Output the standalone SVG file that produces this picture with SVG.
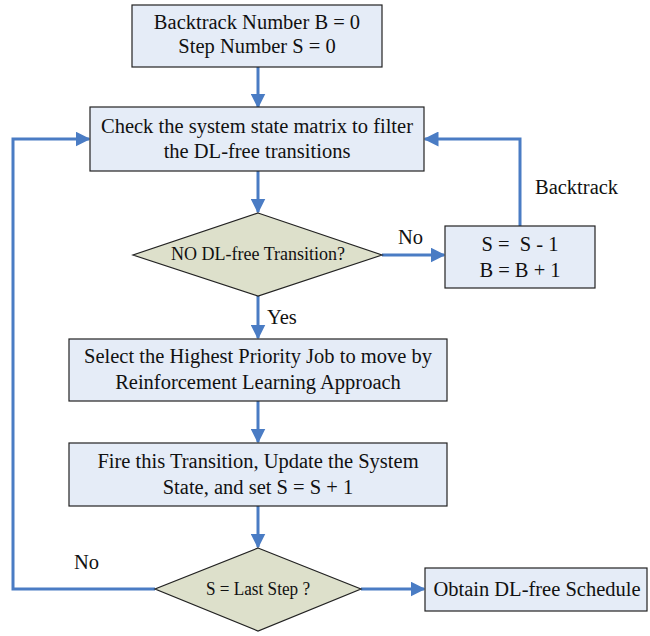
<svg xmlns="http://www.w3.org/2000/svg" width="650" height="636" viewBox="0 0 650 636">
<style>
.box{fill:#E5ECF7;stroke:#222;stroke-width:1.2}
.dia{fill:#DDE0CB;stroke:#222;stroke-width:1.2}
.t{font-family:"Liberation Serif","Times New Roman",serif;font-size:20.5px;fill:#111;text-anchor:middle}
.ts{font-family:"Liberation Serif","Times New Roman",serif;font-size:18px;fill:#111;text-anchor:middle}
.lbl{font-family:"Liberation Serif","Times New Roman",serif;font-size:20.5px;fill:#111}
.c{fill:none;stroke:#4A7CC4;stroke-width:3}
</style>
<defs>
<marker id="ah" markerWidth="5" markerHeight="5" refX="4.5" refY="2.5" orient="auto" markerUnits="strokeWidth">
<path d="M0,0 L5,2.5 L0,5 Z" fill="#4A7CC4"/>
</marker>
</defs>
<g id="connectors">
<path class="c" d="M258,67 V107" marker-end="url(#ah)"/>
<path class="c" d="M258,171 V212" marker-end="url(#ah)"/>
<path class="c" d="M382,255 H444" marker-end="url(#ah)"/>
<path class="c" d="M520,226 V139 H425" marker-end="url(#ah)"/>
<path class="c" d="M258,296 V338" marker-end="url(#ah)"/>
<path class="c" d="M258,401 V442" marker-end="url(#ah)"/>
<path class="c" d="M258,506 V547" marker-end="url(#ah)"/>
<path class="c" d="M361,589 H424" marker-end="url(#ah)"/>
<path class="c" d="M155,589 H13 V139 H89" marker-end="url(#ah)"/>
<text class="lbl" x="398" y="244">No</text>
<text class="lbl" x="535" y="194">Backtrack</text>
<text class="lbl" x="267" y="324">Yes</text>
<text class="lbl" x="74" y="569">No</text>
</g>
<g id="init">
<rect class="box" x="132" y="5" width="250" height="62"/>
<text class="t" x="257" y="29">Backtrack Number B = 0</text>
<text class="t" x="257" y="53">Step Number S = 0</text>
</g>
<g id="check">
<rect class="box" x="90" y="107" width="334" height="64"/>
<text class="t" x="257" y="133">Check the system state matrix to filter</text>
<text class="t" x="257" y="158">the DL-free transitions</text>
</g>
<g id="noDL">
<polygon class="dia" points="258,213 382,255 258,296 133,255"/>
<text class="ts" x="258" y="260">NO DL-free Transition?</text>
</g>
<g id="backtrack">
<rect class="box" x="445" y="226" width="150" height="62"/>
<text class="t" x="520" y="251" xml:space="preserve">S =  S - 1</text>
<text class="t" x="520" y="277">B = B + 1</text>
</g>
<g id="select">
<rect class="box" x="69" y="339" width="378" height="62"/>
<text class="t" x="258" y="363">Select the Highest Priority Job to move by</text>
<text class="t" x="258" y="389">Reinforcement Learning Approach</text>
</g>
<g id="fire">
<rect class="box" x="69" y="443" width="378" height="63"/>
<text class="t" x="258" y="468">Fire this Transition, Update the System</text>
<text class="t" x="258" y="494">State, and set S = S + 1</text>
</g>
<g id="last">
<polygon class="dia" points="258,548 361,589 258,631 155,589"/>
<text class="ts" x="258" y="595" textLength="104" lengthAdjust="spacingAndGlyphs">S = Last Step ?</text>
</g>
<g id="obtain">
<rect class="box" x="425" y="568" width="222" height="43"/>
<text class="t" x="537" y="596">Obtain DL-free Schedule</text>
</g>
</svg>
